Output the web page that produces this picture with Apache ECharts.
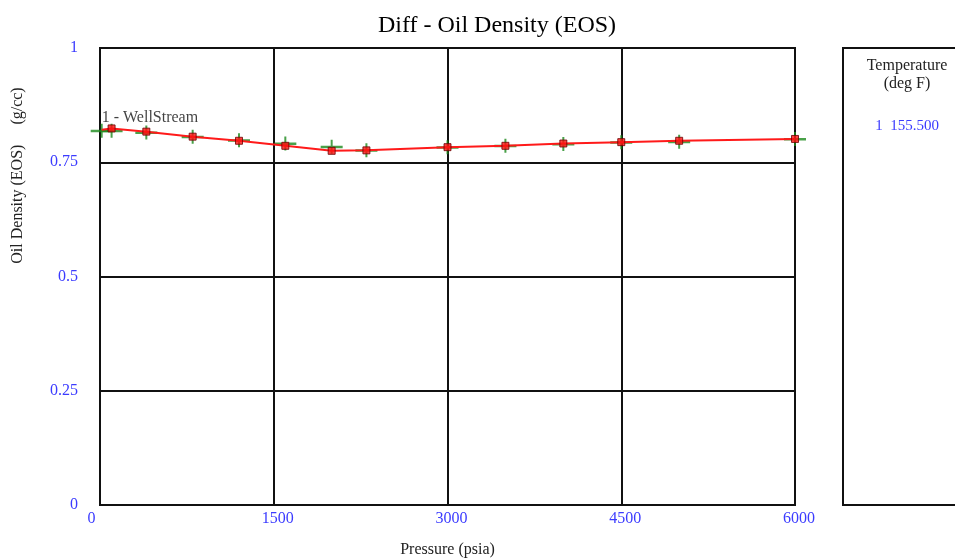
<!DOCTYPE html>
<html>
<head>
<meta charset="utf-8">
<script src="https://cdn.jsdelivr.net/npm/echarts@6/dist/echarts.min.js"></script>
<style>
  html, body { margin: 0; padding: 0; background: #ffffff; overflow: hidden; }
  #chart { width: 955px; height: 558px; }
</style>
</head>
<body>
<div id="chart"></div>
<script>
// Differential liberation: oil density (EOS) versus pressure
const pressure = [14.7, 100, 400, 800, 1200, 1600, 2000, 2300, 3000, 3500, 4000, 4500, 5000, 6000];
const calcDensity = [0.821, 0.824, 0.817, 0.806, 0.797, 0.786, 0.775, 0.776, 0.783, 0.786, 0.791, 0.794, 0.797, 0.801];
const measDensity = [0.819, 0.819, 0.815, 0.806, 0.798, 0.791, 0.784, 0.776, 0.783, 0.786, 0.790, 0.794, 0.795, 0.801];
const xTicks = [0, 1500, 3000, 4500, 6000];
const yTicks = [0, 0.25, 0.5, 0.75, 1];
const seriesName = '1 - WellStream';
const legendTitle = ['Temperature', '(deg F)'];
const legendEntry = '1  155.500';

const serif = '"Liberation Serif", "DejaVu Serif", serif';
const blue = '#3b3bff';
// filled plus sign (22 x 14 box)
const plusPath = 'path://M0,6H10V0H12V6H22V8.5H12V14H10V8.5H0Z';

// x labels start a little to the left of their tick: shift each centred label
// by padding it on one side according to its length
function xLabelRich(v) {
  const s = String(v);
  const half = s.length * 8 / 2;
  const shift = half - 12;
  return shift >= 0 ? '{r|' + s + '}' : '{l|' + s + '}';
}

const measData = pressure.map((p, i) => {
  const item = { value: [p, measDensity[i]] };
  if (i === 0) {
    item.label = {
      show: true,
      formatter: seriesName,
      position: [11, -14],
      color: '#111',
      fontFamily: serif,
      fontSize: 16
    };
  }
  return item;
});

const chart = echarts.init(document.getElementById('chart'));
chart.setOption({
  animation: false,
  backgroundColor: '#ffffff',
  title: {
    text: 'Diff - Oil Density (EOS)',
    left: 492,
    textAlign: 'center',
    top: 9,
    textStyle: { fontFamily: serif, fontSize: 24, fontWeight: 'normal', color: '#000' }
  },
  grid: {
    left: 100, right: 160, top: 48, bottom: 53,
    outerBoundsMode: 'none',
    show: true, borderColor: '#111', borderWidth: 2, backgroundColor: 'transparent'
  },
  xAxis: {
    type: 'value',
    min: xTicks[0], max: xTicks[xTicks.length - 1], interval: xTicks[1] - xTicks[0],
    name: 'Pressure (psia)',
    nameLocation: 'middle',
    nameGap: 37,
    nameTextStyle: { fontFamily: serif, fontSize: 16, color: '#222' },
    axisLine: { show: true, lineStyle: { color: '#111', width: 2 } },
    axisTick: { show: false },
    splitLine: { show: true, lineStyle: { color: '#111', width: 2 } },
    axisLabel: {
      margin: 6,
      fontFamily: serif, fontSize: 16, color: blue,
      formatter: v => xLabelRich(v),
      rich: {
        r: { fontFamily: serif, fontSize: 16, color: blue, padding: [0, 0, 0, 8] },
        l: { fontFamily: serif, fontSize: 16, color: blue, padding: [0, 17, 0, 0] }
      }
    }
  },
  yAxis: {
    type: 'value',
    min: yTicks[0], max: yTicks[yTicks.length - 1], interval: yTicks[1] - yTicks[0],
    name: 'Oil Density (EOS)     (g/cc)',
    nameLocation: 'middle',
    nameRotate: 90,
    nameGap: 74,
    nameTextStyle: { fontFamily: serif, fontSize: 16, color: '#222', padding: [0, 0, 0, 202] },
    axisLine: { show: true, lineStyle: { color: '#111', width: 2 } },
    axisTick: { show: false },
    splitLine: { show: true, lineStyle: { color: '#111', width: 2 } },
    axisLabel: {
      margin: 22,
      fontFamily: serif, fontSize: 16, color: blue,
      formatter: v => String(v)
    }
  },
  series: [
    {
      name: seriesName,
      type: 'line',
      data: pressure.map((p, i) => [p, calcDensity[i]]),
      showSymbol: false,
      symbol: 'none',
      lineStyle: { color: '#ff1a1a', width: 2 },
      z: 3
    },
    {
      name: 'measured',
      type: 'scatter',
      data: measData,
      symbol: plusPath,
      symbolSize: [22, 14],
      symbolKeepAspect: false,
      itemStyle: { color: '#1b8a1b' },
      z: 2
    },
    {
      name: 'calculated',
      type: 'scatter',
      data: pressure.slice(1).map((p, i) => [p, calcDensity[i + 1]]),
      symbol: 'rect',
      symbolSize: 7,
      itemStyle: { color: '#ff1010', borderColor: '#6a0000', borderWidth: 1 },
      z: 4
    }
  ],
  graphic: [
    {
      type: 'rect',
      shape: { x: 843, y: 48, width: 140, height: 457 },
      style: { fill: '#ffffff', stroke: '#111', lineWidth: 2 }
    },
    {
      type: 'text',
      x: 907, y: 57,
      style: {
        text: legendTitle.join('\n'),
        align: 'center',
        fill: '#222',
        font: '16px ' + serif,
        lineHeight: 18
      }
    },
    {
      type: 'text',
      x: 907, y: 119,
      style: {
        text: legendEntry,
        align: 'center',
        fill: blue,
        font: '15px ' + serif
      }
    }
  ]
});
</script>
</body>
</html>
